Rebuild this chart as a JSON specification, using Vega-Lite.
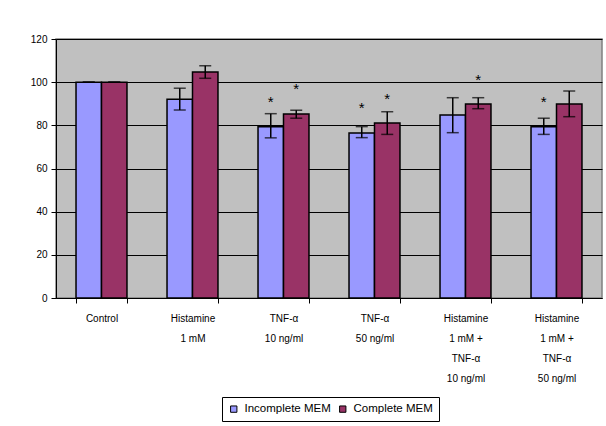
{
  "$schema": "https://vega.github.io/schema/vega-lite/v6.json",
  "width": 546,
  "height": 259,
  "autosize": "none",
  "padding": {"left": 56, "top": 39, "right": 4, "bottom": 128},
  "background": "white",
  "config": {
    "font": "Liberation Sans",
    "view": {"fill": "#C0C0C0", "stroke": "#808080", "strokeWidth": 1.5},
    "axis": {"labelFont": "Liberation Sans", "labelColor": "black", "labelFontSize": 10, "tickColor": "black", "domainColor": "black", "tickSize": 5, "title": null}
  },
  "data": {
    "values": [
      {"group": "Control", "series": "Incomplete MEM", "value": 100, "lo": 100, "hi": 100, "star": null},
      {"group": "Control", "series": "Complete MEM", "value": 100, "lo": 100, "hi": 100, "star": null},
      {"group": "Histamine|1 mM", "series": "Incomplete MEM", "value": 92.1, "lo": 87.1, "hi": 97.2, "star": null},
      {"group": "Histamine|1 mM", "series": "Complete MEM", "value": 104.7, "lo": 101.8, "hi": 107.6, "star": null},
      {"group": "TNF-α|10 ng/ml", "series": "Incomplete MEM", "value": 79.4, "lo": 74.2, "hi": 85.4, "star": 92.7},
      {"group": "TNF-α|10 ng/ml", "series": "Complete MEM", "value": 85.3, "lo": 83.3, "hi": 87.0, "star": 98.7},
      {"group": "TNF-α|50 ng/ml", "series": "Incomplete MEM", "value": 76.5, "lo": 74.3, "hi": 79.4, "star": 89.9},
      {"group": "TNF-α|50 ng/ml", "series": "Complete MEM", "value": 81.1, "lo": 75.8, "hi": 86.3, "star": 94.1},
      {"group": "Histamine|1 mM +|TNF-α|10 ng/ml", "series": "Incomplete MEM", "value": 84.8, "lo": 76.6, "hi": 92.8, "star": null},
      {"group": "Histamine|1 mM +|TNF-α|10 ng/ml", "series": "Complete MEM", "value": 89.9, "lo": 87.7, "hi": 92.8, "star": 102.9},
      {"group": "Histamine|1 mM +|TNF-α|50 ng/ml", "series": "Incomplete MEM", "value": 79.4, "lo": 75.8, "hi": 83.3, "star": 92.5},
      {"group": "Histamine|1 mM +|TNF-α|50 ng/ml", "series": "Complete MEM", "value": 89.9, "lo": 84.0, "hi": 95.9, "star": null}
    ]
  },
  "encoding": {
    "x": {
      "field": "group", "type": "nominal",
      "sort": ["Control", "Histamine|1 mM", "TNF-α|10 ng/ml", "TNF-α|50 ng/ml", "Histamine|1 mM +|TNF-α|10 ng/ml", "Histamine|1 mM +|TNF-α|50 ng/ml"],
      "scale": {"paddingInner": 0.44, "paddingOuter": 0.22},
      "axis": {"labelAngle": 0, "labelExpr": "split(datum.label, '|')", "labelLineHeight": 20, "labelPadding": 10, "tickBand": "extent", "labelBaseline": "top"}
    },
    "xOffset": {"field": "series", "type": "nominal", "sort": ["Incomplete MEM", "Complete MEM"]}
  },
  "layer": [
    {
      "mark": {"type": "bar", "stroke": "black", "strokeWidth": 1.5},
      "encoding": {
        "y": {"field": "value", "type": "quantitative", "scale": {"domain": [0, 120]},
          "axis": {"values": [0, 20, 40, 60, 80, 100, 120], "grid": true, "gridColor": "black", "gridWidth": 1, "labelPadding": 4}},
        "color": {"field": "series", "type": "nominal", "sort": ["Incomplete MEM", "Complete MEM"],
          "scale": {"domain": ["Incomplete MEM", "Complete MEM"], "range": ["#9999FF", "#993366"]},
          "legend": {"title": null, "orient": "none", "legendX": 166, "legendY": 358, "direction": "horizontal",
            "strokeColor": "black", "padding": 6, "symbolType": "square", "symbolSize": 40, "symbolStrokeColor": "black",
            "symbolStrokeWidth": 1, "labelFontSize": 11.5, "labelFont": "Liberation Sans", "labelColor": "black", "columnPadding": 6, "symbolOffset": 0, "labelOffset": 5}}
      }
    },
    {
      "mark": {"type": "rule", "color": "black", "strokeWidth": 1.5},
      "encoding": {"y": {"field": "lo", "type": "quantitative"}, "y2": {"field": "hi"}}
    },
    {
      "mark": {"type": "tick", "color": "black", "thickness": 1.5, "size": 12},
      "encoding": {"y": {"field": "lo", "type": "quantitative"}}
    },
    {
      "mark": {"type": "tick", "color": "black", "thickness": 1.5, "size": 12},
      "encoding": {"y": {"field": "hi", "type": "quantitative"}}
    },
    {
      "transform": [{"filter": "datum.star != null"}],
      "mark": {"type": "text", "text": "*", "fontSize": 15, "font": "Liberation Sans", "baseline": "middle", "dy": 4, "color": "black"},
      "encoding": {"y": {"field": "star", "type": "quantitative"}}
    }
  ]
}
